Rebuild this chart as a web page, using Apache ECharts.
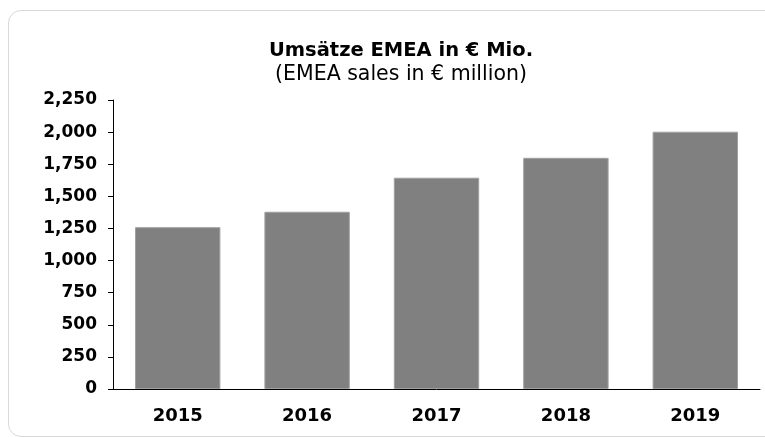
<!DOCTYPE html>
<html>
<head>
<meta charset="utf-8">
<script src="https://cdn.jsdelivr.net/npm/echarts@6/dist/echarts.min.js"></script>
<style>
  html, body { margin: 0; padding: 0; background: #fff; }
  .frame {
    position: absolute; left: 8px; top: 10px;
    width: 780px; height: 425px;
    border: 1px solid #d9d9d9; border-radius: 13px;
  }
  #main { position: absolute; left: 0; top: 0; width: 765px; height: 437px; }
</style>
</head>
<body>
<div class="frame"></div>
<div id="main"></div>
<script>
  // Jahre
  const years = ['2015', '2016', '2017', '2018', '2019'];
  // Umsätze EMEA in € Mio.
  const sales = [1260, 1380, 1645, 1800, 2003];
  // y-Achse
  const yMin = 0, yMax = 2250, yStep = 250;

  const fontName = 'DejaVu Sans';
  const chartObj = echarts.init(document.getElementById('main'));
  const option = {
    animation: false,
    title: {
      left: 396,
      textAlign: 'center',
      top: 36,
      text: 'Umsätze EMEA in € Mio.',
      subtext: '(EMEA sales in € million)',
      itemGap: 3,
      textStyle: { color: '#000', fontFamily: fontName, fontWeight: 'bold', fontSize: 19.5 },
      subtextStyle: { color: '#000', fontFamily: fontName, fontSize: 20.5 }
    },
    grid: { left: 113, right: 5, top: 100, bottom: 48, containLabel: false },
    xAxis: {
      type: 'category',
      data: years,
      axisLine: { lineStyle: { color: '#000', width: 1 } },
      axisTick: { length: 6, lineStyle: { color: '#000' } },
      axisLabel: { color: '#000', fontFamily: fontName, fontWeight: 'bold', fontSize: 18, margin: 18 }
    },
    yAxis: {
      type: 'value',
      min: yMin, max: yMax, interval: yStep,
      splitLine: { show: false },
      axisLine: { show: true, lineStyle: { color: '#000', width: 1 } },
      axisTick: { show: true, length: 5, lineStyle: { color: '#000' } },
      axisLabel: {
        color: '#000', fontFamily: fontName, fontWeight: 'bold', fontSize: 17, margin: 16,
        formatter: function (v) { return v.toLocaleString('en-US'); }
      }
    },
    series: [{
      type: 'bar',
      data: sales,
      barWidth: '66%',
      itemStyle: { color: '#808080', borderColor: '#a0a0a0', borderWidth: 1 }
    }]
  };
  chartObj.setOption(option);
</script>
</body>
</html>
